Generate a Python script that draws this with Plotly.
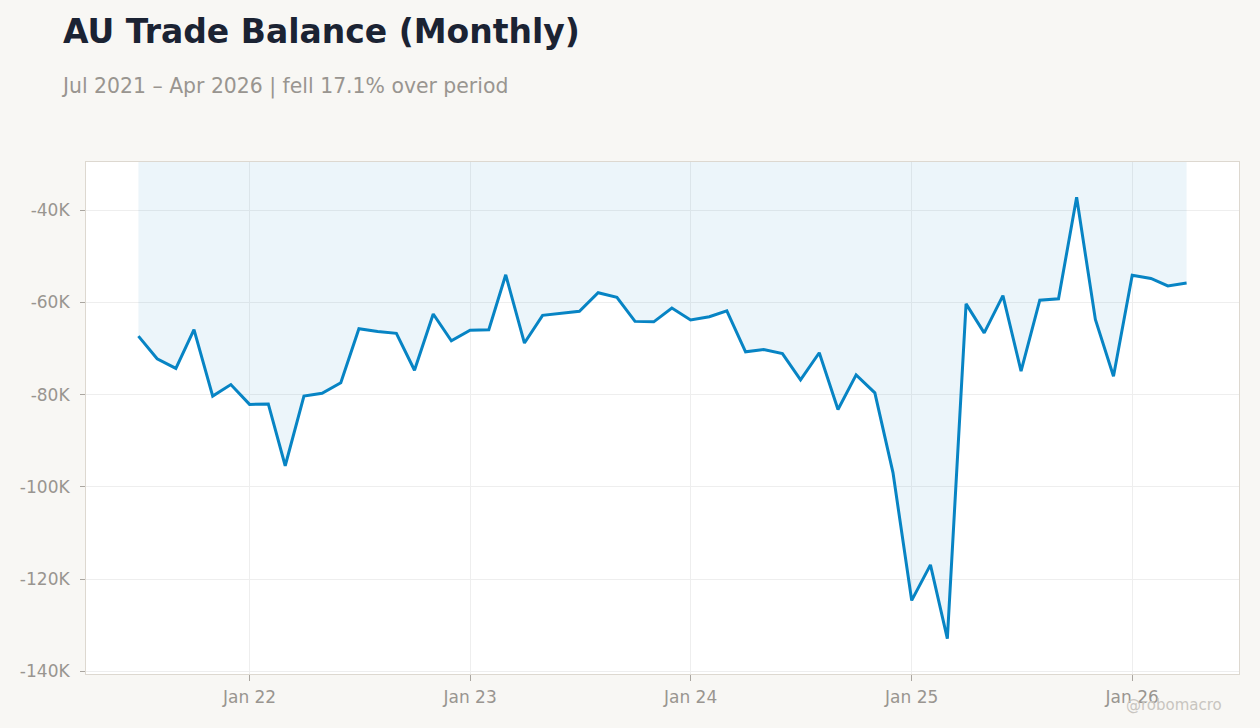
import pandas as pd
import plotly.graph_objects as go

dates = pd.date_range("2021-07-01", "2026-04-01", freq="MS")
values_k = [
    -67.3, -72.2, -74.3, -65.9, -80.3, -77.8,
    -82.1, -82.0, -95.4, -80.3, -79.7, -77.4, -65.7, -66.3, -66.7, -74.7, -62.5, -68.3,
    -66.0, -65.9, -54.0, -68.8, -62.8, -62.3, -61.9, -57.9, -58.9, -64.1, -64.2, -61.2,
    -63.8, -63.1, -61.8, -70.7, -70.2, -71.1, -76.8, -70.9, -83.2, -75.7, -79.6, -96.9,
    -124.6, -116.9, -132.9, -60.3, -66.6, -58.5, -74.9, -59.5, -59.2, -37.2, -63.7, -76.0,
    -54.1, -54.8, -56.4, -55.8,
]
values = [v * 1000 for v in values_k]
y_ticks = [-140000, -120000, -100000, -80000, -60000, -40000]
y_tick_labels = ["-140K", "-120K", "-100K", "-80K", "-60K", "-40K"]
x_ticks = ["2022-01-01", "2023-01-01", "2024-01-01", "2025-01-01", "2026-01-01"]
x_tick_labels = ["Jan 22", "Jan 23", "Jan 24", "Jan 25", "Jan 26"]

span = dates[-1] - dates[0]
x_range = [dates[0] - span * 0.05, dates[-1] + span * 0.05]
vmin, vmax = min(values), max(values)
vr = vmax - vmin
y_range = [vmin - vr * 0.08, vmax + vr * 0.08]

FONT = "DejaVu Sans"
fig = go.Figure()
fig.add_trace(go.Scatter(
    x=dates, y=values, mode="lines",
    line=dict(color="#0784c4", width=3),
    fill="tozeroy", fillcolor="rgba(7,132,196,0.08)",
    hoverinfo="x+y", showlegend=False,
))

fig.update_layout(
    width=1260, height=728,
    paper_bgcolor="#f8f7f4", plot_bgcolor="#ffffff",
    margin=dict(l=86, r=21, t=162, b=54),
    font=dict(family=FONT, color="#999590", size=17),
    title=dict(
        text="<b>AU Trade Balance (Monthly)</b>",
        x=63 / 1260, xref="container", xanchor="left",
        y=1 - 31 / 728, yref="container", yanchor="middle",
        font=dict(family=FONT, size=33, color="#1b2333"),
    ),
    annotations=[
        dict(text="Jul 2021 – Apr 2026 | fell 17.1% over period",
             xref="paper", yref="paper", x=(59 - 86) / 1153, xanchor="left",
             y=(674 - 86) / 512, yanchor="middle", showarrow=False,
             font=dict(family=FONT, size=20.4, color="#999590")),
        dict(text="@robomacro", xref="paper", yref="paper",
             x=(1224 - 86) / 1153, xanchor="right", y=(674 - 705) / 512,
             yanchor="middle", showarrow=False,
             font=dict(family=FONT, size=15, color="#c8c5c0")),
    ],
    xaxis=dict(
        range=x_range, tickvals=x_ticks, ticktext=x_tick_labels,
        showgrid=True, gridcolor="#eeeeee", gridwidth=1,
        showline=True, linecolor="#ddd8d0", linewidth=1, mirror=True,
        ticks="outside", ticklen=6, tickcolor="#aaa6a0", ticklabelstandoff=2,
        zeroline=False, tickfont=dict(size=17, color="#999590"),
    ),
    yaxis=dict(
        range=y_range, tickvals=y_ticks, ticktext=y_tick_labels,
        showgrid=True, gridcolor="#eeeeee", gridwidth=1,
        showline=True, linecolor="#ddd8d0", linewidth=1, mirror=True,
        ticks="outside", ticklen=5, tickcolor="#aaa6a0", ticklabelstandoff=7,
        zeroline=False, tickfont=dict(size=17, color="#999590"),
    ),
)

fig.write_html("out.html", config={"displayModeBar": False},
               post_script="document.body.style.margin='0';")
